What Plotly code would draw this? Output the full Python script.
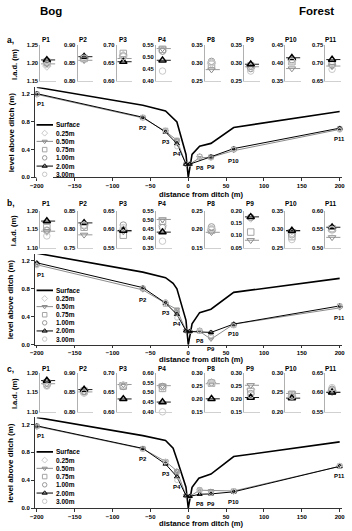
import plotly.graph_objects as go

W, H = 352, 531
FONT = "Liberation Sans, Arial, sans-serif"

# ---------------- data ----------------
stations = ["P1", "P2", "P3", "P4", "", "", "P8", "P9", "P10", "P11"]
station_x = [-200, -60, -30, -15, -3, 2, 15, 30, 60, 200]
small_idx = [0, 1, 2, 3, 6, 7, 8, 9]
depths = ["0.25m", "0.50m", "0.75m", "1.00m", "2.00m", "3.00m"]
dist_ticks = [-200, -150, -100, -50, 0, 50, 100, 150, 200]
level_ticks = [0.0, 0.4, 0.8, 1.2]

# panel a
a_025 = [1.192, 0.862, 0.672, 0.528, None, None, 0.300, 0.288, 0.408, 0.693]
a_050 = [1.198, 0.858, 0.663, 0.536, 0.19, 0.19, 0.282, 0.290, 0.385, 0.692]
a_075 = [1.203, 0.863, 0.677, 0.533, None, None, 0.297, 0.292, 0.404, 0.700]
a_100 = [1.200, 0.865, 0.670, 0.525, 0.19, 0.19, 0.305, 0.285, 0.410, 0.697]
a_200 = [1.209, 0.868, 0.654, 0.487, 0.19, 0.19, None, 0.297, 0.415, 0.710]
a_300 = [1.196, 0.864, 0.668, 0.442, None, None, 0.302, 0.278, 0.405, 0.683]
a_surf_x = [-200, -60, -30, -20, -15, -3, 0, 5, 15, 30, 60, 200]
a_surf_y = [1.30, 1.04, 0.96, 0.86, 0.80, 0.33, 0.0, 0.33, 0.45, 0.49, 0.72, 0.95]
a_ranges = [(1.15, 1.25), (0.80, 0.90), (0.60, 0.70), (0.40, 0.55),
            (0.25, 0.35), (0.25, 0.35), (0.35, 0.45), (0.65, 0.75)]

# panel b
b_025 = [1.145, 0.810, 0.600, 0.470, None, None, 0.200, 0.172, 0.290, 0.548]
b_050 = [1.145, 0.785, 0.594, 0.505, 0.20, 0.19, 0.192, 0.080, 0.295, 0.528]
b_075 = [1.155, 0.806, 0.584, 0.495, None, None, 0.198, 0.114, 0.280, 0.552]
b_100 = [1.148, 0.810, 0.612, 0.460, 0.20, 0.19, 0.207, 0.175, 0.285, 0.550]
b_200 = [1.173, 0.818, 0.597, 0.435, 0.20, 0.19, None, 0.177, 0.297, 0.556]
b_300 = [1.132, 0.812, 0.605, 0.385, None, None, 0.202, None, 0.272, 0.550]
b_surf_x = [-200, -60, -30, -20, -15, -3, 0, 5, 15, 30, 60, 200]
b_surf_y = [1.31, 1.04, 0.96, 0.88, 0.80, 0.35, 0.0, 0.30, 0.46, 0.51, 0.75, 0.95]
b_ranges = [(1.10, 1.20), (0.75, 0.85), (0.55, 0.65), (0.35, 0.55),
            (0.15, 0.25), (0.05, 0.20), (0.25, 0.35), (0.50, 0.60)]

# panel c
c_025 = [1.170, 0.850, 0.668, 0.525, None, None, 0.262, 0.237, 0.240, 0.605]
c_050 = [1.172, 0.851, 0.670, 0.534, 0.18, 0.17, 0.258, 0.252, 0.247, 0.600]
c_075 = [1.174, 0.853, 0.666, 0.520, None, None, 0.260, 0.228, 0.245, 0.603]
c_100 = [1.168, 0.852, 0.665, 0.530, 0.18, 0.17, 0.262, 0.220, 0.240, 0.608]
c_200 = [1.180, 0.857, 0.633, 0.450, 0.18, 0.17, 0.200, 0.205, 0.235, 0.600]
c_300 = [1.166, 0.848, 0.668, 0.400, None, None, 0.260, 0.215, 0.240, 0.612]
c_surf_x = [-200, -60, -30, -20, -14, -3, 0, 5, 14, 30, 60, 200]
c_surf_y = [1.30, 1.04, 0.97, 0.86, 0.67, 0.30, 0.0, 0.30, 0.43, 0.49, 0.74, 0.95]
c_ranges = [(1.10, 1.20), (0.80, 0.90), (0.60, 0.70), (0.40, 0.60),
            (0.15, 0.30), (0.15, 0.30), (0.20, 0.30), (0.55, 0.65)]

# ---------------- styles ----------------
STY = {
    "0.25m": dict(symbol="diamond-open", color="#c8c8c8", lw=1.0, line=False),
    "0.50m": dict(symbol="triangle-down-open", color="#8c8c8c", lw=1.0, line=True),
    "0.75m": dict(symbol="square-open", color="#a5a5a5", lw=1.0, line=False),
    "1.00m": dict(symbol="circle-open", color="#9a9a9a", lw=1.0, line=False),
    "2.00m": dict(symbol="triangle-up-open", color="#000000", lw=1.5, line=True),
    "3.00m": dict(symbol="circle-open", color="#c8c8c8", lw=1.0, line=False),
}

panels = [
    dict(letter="a,", vals=[a_025, a_050, a_075, a_100, a_200, a_300], sx=a_surf_x, sy=a_surf_y,
         ranges=a_ranges, s_top=42.7, s_bot=79.0, title_y=37.3, zero=176.3, top=85.3,
         xlab_y=193.5, leg_top=123.3, leg_step=8.33),
    dict(letter="b,", vals=[b_025, b_050, b_075, b_100, b_200, b_300], sx=b_surf_x, sy=b_surf_y,
         ranges=b_ranges, s_top=210.7, s_bot=247.3, title_y=202.7, zero=345.7, top=253.8,
         xlab_y=361.0, leg_top=290.7, leg_step=8.2),
    dict(letter="c,", vals=[c_025, c_050, c_075, c_100, c_200, c_300], sx=c_surf_x, sy=c_surf_y,
         ranges=c_ranges, s_top=374.0, s_bot=413.5, title_y=370.0, zero=511.0, top=419.2,
         xlab_y=526.6, leg_top=454.0, leg_step=8.33),
]

small_ax_x = [37, 75, 115, 155, 205, 245, 287, 328]
SMALL_W = 16
MAIN_X0, MAIN_X1 = 31.2, 344.8


def px(x):
    return x / W


def py(y):
    return 1 - y / H


fig = go.Figure()
layout = {}
annotations = []
counter = [0]


def new_axes(xdom, ydom, xa, ya):
    counter[0] += 1
    n = counter[0]
    s = "" if n == 1 else str(n)
    layout["xaxis" + s] = dict(domain=xdom, anchor="y" + s, **xa)
    layout["yaxis" + s] = dict(domain=ydom, anchor="x" + s, **ya)
    return "x" + s, "y" + s


def bold(t):
    return "<b>" + t + "</b>"


def ann(text, x, y, size, **kw):
    d = dict(text=bold(text), x=px(x), y=py(y), xref="paper", yref="paper",
             xanchor="center", yanchor="middle",
             showarrow=False, font=dict(family=FONT, size=size, color="#000"))
    d.update(kw)
    annotations.append(d)


ann("Bog", 47.5, 8, 11.5)
ann("Forest", 319, 8, 11.5)

for P in panels:
    vals = P["vals"]
    ann(P["letter"], 1, P["title_y"], 8.5, xanchor="left")
    ann("l.a.d. (m)", 10, (P["s_top"] + P["s_bot"]) / 2 + 1, 7.5, textangle=-90)
    # ---- small panels ----
    for k, si in enumerate(small_idx):
        lo, hi = P["ranges"][k]
        nt = int(round((hi - lo) / 0.05))
        tv = [round(lo + 0.05 * i, 2) for i in range(nt + 1)]
        xa = dict(range=[0, 1], showline=True, linecolor="#d0d0d0", linewidth=1,
                  showticklabels=False, ticks="", showgrid=False, zeroline=False, fixedrange=True)
        ya = dict(range=[lo, hi], showline=True, linecolor="#b0b0b0", linewidth=1,
                  tickvals=tv, ticktext=["%.2f" % t for t in tv], ticks="",
                  tickfont=dict(family=FONT, size=5.8, color="#000", weight="bold"),
                  showgrid=False, zeroline=False, fixedrange=True)
        x0 = small_ax_x[k]
        xr, yr = new_axes([px(x0), px(x0 + SMALL_W)], [py(P["s_bot"]), py(P["s_top"])], xa, ya)
        for d, arr in zip(depths, vals):
            v = arr[si]
            if v is None:
                continue
            st = STY[d]
            if st["line"]:
                fig.add_trace(go.Scatter(x=[0.05, 0.95], y=[v, v], mode="lines", xaxis=xr, yaxis=yr,
                                         line=dict(color=st["color"], width=0.9), showlegend=False,
                                         hoverinfo="skip", cliponaxis=False))
        for d, arr in zip(depths, vals):
            v = arr[si]
            if v is None:
                continue
            st = STY[d]
            fig.add_trace(go.Scatter(x=[0.42], y=[v], mode="markers", xaxis=xr, yaxis=yr,
                                     marker=dict(symbol=st["symbol"], size=6.5,
                                                 color=st["color"], line=dict(color=st["color"], width=st["lw"])),
                                     showlegend=False, cliponaxis=False))
        ann(stations[si], x0 + 6, P["title_y"], 6.5)

    # ---- main panel ----
    xa = dict(range=[-203, 203], showline=True, linecolor="#333", linewidth=1,
              tickvals=dist_ticks, ticks="outside", ticklen=2.5, tickwidth=1, tickcolor="#333",
              tickfont=dict(family=FONT, size=6, color="#000", weight="bold"),
              showgrid=False, zeroline=False, fixedrange=True)
    ya = dict(range=[0, 1.3], showline=True, linecolor="#333", linewidth=1,
              tickvals=level_ticks, ticktext=["%.1f" % t for t in level_ticks],
              ticks="outside", ticklen=2.5, tickwidth=1, tickcolor="#333",
              tickfont=dict(family=FONT, size=6, color="#000", weight="bold"),
              showgrid=False, zeroline=False, fixedrange=True)
    xr, yr = new_axes([px(MAIN_X0), px(MAIN_X1)], [py(P["zero"]), py(P["top"])], xa, ya)
    fig.add_trace(go.Scatter(x=P["sx"], y=P["sy"], mode="lines", xaxis=xr, yaxis=yr,
                             line=dict(color="#000", width=1.6), showlegend=False, cliponaxis=False))
    for d, arr in zip(depths, vals):
        st = STY[d]
        mode = "lines+markers" if st["line"] else "markers"
        fig.add_trace(go.Scatter(x=station_x, y=arr, mode=mode, xaxis=xr, yaxis=yr,
                                 connectgaps=True,
                                 line=dict(color=st["color"], width=1),
                                 marker=dict(symbol=st["symbol"], size=4.5, color=st["color"],
                                             line=dict(color=st["color"], width=1)),
                                 showlegend=False, cliponaxis=False))
    for i, name in enumerate(stations):
        if not name:
            continue
        ys = [vals[1][i], vals[4][i]]
        ys = [y for y in ys if y is not None]
        annotations.append(dict(text=bold(name), x=station_x[i], y=min(ys), xref=xr, yref=yr,
                                yshift=-10, xshift=4 if i == 0 else 0, showarrow=False,
                                xanchor="center", yanchor="middle",
                                font=dict(family=FONT, size=6, color="#000")))
    ann("distance from ditch (m)", 201, P["xlab_y"], 7.6, borderpad=0)
    ann("level above ditch (m)", 7, (P["zero"] + P["top"]) / 2, 8, textangle=-90)

    # ---- legend (drawn in its own small axes) ----
    step = P["leg_step"]
    lt = P["leg_top"]
    xa = dict(range=[0, 1], visible=False, fixedrange=True)
    ya = dict(range=[6.5, -0.5], visible=False, fixedrange=True)
    lx, ly = new_axes([px(33), px(50)], [py(lt + 6 * step + step / 2), py(lt - step / 2)], xa, ya)
    fig.add_trace(go.Scatter(x=[0, 1], y=[0, 0], mode="lines", xaxis=lx, yaxis=ly,
                             line=dict(color="#000", width=1.6), showlegend=False, hoverinfo="skip"))
    leg_names = ["Surface"] + depths
    for r, d in enumerate(depths, start=1):
        st = STY[d]
        if st["line"]:
            fig.add_trace(go.Scatter(x=[0, 1], y=[r, r], mode="lines", xaxis=lx, yaxis=ly,
                                     line=dict(color=st["color"], width=1), showlegend=False,
                                     hoverinfo="skip"))
        fig.add_trace(go.Scatter(x=[0.5], y=[r], mode="markers", xaxis=lx, yaxis=ly,
                                 marker=dict(symbol=st["symbol"], size=4.5, color=st["color"],
                                             line=dict(color=st["color"], width=1)),
                                 showlegend=False, hoverinfo="skip", cliponaxis=False))
    for r, name in enumerate(leg_names):
        annotations.append(dict(text=bold(name), x=1, y=r, xref=lx, yref=ly, xanchor="left",
                                yanchor="middle", xshift=1, showarrow=False,
                                font=dict(family=FONT, size=6.5, color="#000")))

fig.update_layout(**layout)
fig.update_layout(width=W, height=H, margin=dict(l=0, r=0, t=0, b=0),
                  paper_bgcolor="white", plot_bgcolor="white", showlegend=False,
                  annotations=annotations, font=dict(family=FONT))
fig.write_html("out.html", config={"displayModeBar": False})
